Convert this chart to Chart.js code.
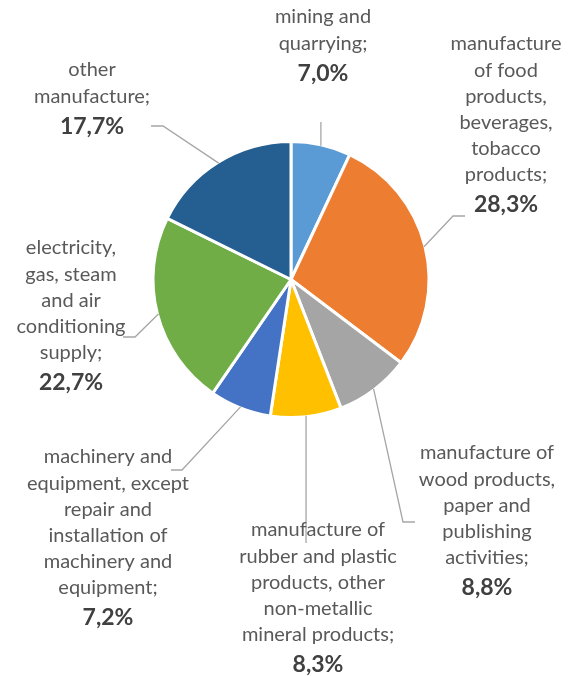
<!DOCTYPE html>
<html>
<head>
<meta charset="utf-8">
<script src="https://cdn.jsdelivr.net/npm/chart.js@4"></script>
<style>
  html, body { margin: 0; padding: 0; background: #fff; }
  canvas { display: block; }
</style>
</head>
<body>
<canvas id="myChart" width="572" height="676"></canvas>
<script>
// categories, wrapped the way they appear in the picture
const categories = [
  ["mining and", "quarrying;"],
  ["manufacture", "of food", "products,", "beverages,", "tobacco", "products;"],
  ["manufacture of", "wood products,", "paper and", "publishing", "activities;"],
  ["manufacture of", "rubber and plastic", "products, other", "non-metallic", "mineral products;"],
  ["machinery and", "equipment, except", "repair and", "installation of", "machinery and", "equipment;"],
  ["electricity,", "gas, steam", "and air", "conditioning", "supply;"],
  ["other", "manufacture;"]
];
const shares = [7.0, 28.3, 8.8, 8.3, 7.2, 22.7, 17.7];
const colors = ["#5B9BD5", "#ED7D31", "#A5A5A5", "#FFC000", "#4472C4", "#70AD47", "#255E91"];

// label placement: centre x, first line y, optional elbow, end of leader line
const labelLayout = [
  { x: 323, y: 17,  end: [322, 122] },
  { x: 506, y: 44,  elbow: [453, 216], end: [465, 216] },
  { x: 487, y: 453, elbow: [403, 522], end: [415, 522] },
  { x: 318, y: 530, end: [307, 543] },
  { x: 108, y: 457, elbow: [182, 470], end: [171, 470] },
  { x: 71,  y: 248, elbow: [135, 337], end: [123, 337] },
  { x: 92,  y: 70,  elbow: [163, 126], end: [151, 126] }
];

const LINE_H = 26.2;
const fmt = v => v.toFixed(1).replace('.', ',') + '%';

const calloutPlugin = {
  id: 'callouts',
  afterDatasetsDraw(chart) {
    const ctx = chart.ctx;
    const arcs = chart.getDatasetMeta(0).data;
    ctx.save();
    arcs.forEach((arc, i) => {
      const lay = labelLayout[i];
      const mid = (arc.startAngle + arc.endAngle) / 2;
      const sx = arc.x + Math.cos(mid) * (arc.outerRadius - 1);
      const sy = arc.y + Math.sin(mid) * (arc.outerRadius - 1);
      ctx.strokeStyle = '#A6A6A6';
      ctx.lineWidth = 1.3;
      ctx.beginPath();
      ctx.moveTo(sx, sy);
      if (lay.elbow) {
        ctx.lineTo(lay.elbow[0], lay.elbow[1]);
        ctx.lineTo(lay.end[0], lay.end[1]);
      } else {
        ctx.lineTo(sx, lay.end[1]);
      }
      ctx.stroke();
    });
    arcs.forEach((arc, i) => {
      const lay = labelLayout[i];
      ctx.textAlign = 'center';
      ctx.textBaseline = 'middle';
      ctx.fillStyle = '#595959';
      ctx.font = '20px Lato';
      const lines = categories[i];
      lines.forEach((t, k) => ctx.fillText(t, lay.x, lay.y + k * LINE_H));
      ctx.fillStyle = '#404040';
      ctx.font = 'bold 23px Lato';
      ctx.fillText(fmt(shares[i]), lay.x, lay.y + (lines.length - 1) * LINE_H + 30);
    });
    ctx.restore();
  }
};

function renderChart() {
  const ctx = document.getElementById('myChart');
  new Chart(ctx, {
    type: 'pie',
    data: {
      labels: categories.map(c => c.join(' ')),
      datasets: [{
        data: shares,
        backgroundColor: colors,
        borderColor: '#ffffff',
        borderWidth: 3
      }]
    },
    options: {
      responsive: false,
      animation: false,
      layout: { padding: { left: 151.5, right: 141.5, top: 140, bottom: 257 } },
      plugins: {
        legend: { display: false },
        tooltip: { enabled: false }
      }
    },
    plugins: [calloutPlugin]
  });
}

Promise.all([
  document.fonts.load('20px Lato'),
  document.fonts.load('bold 23px Lato')
]).then(renderChart, renderChart);
</script>
</body>
</html>
